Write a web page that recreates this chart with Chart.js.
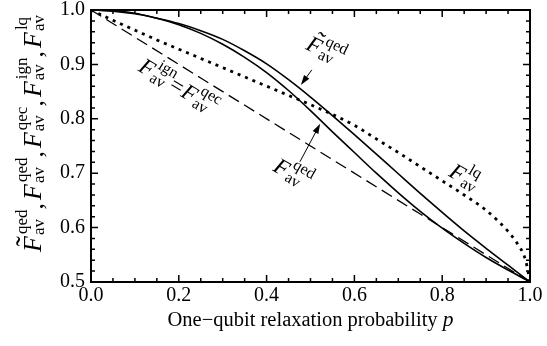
<!DOCTYPE html>
<html>
<head>
<meta charset="utf-8">
<script src="https://cdn.jsdelivr.net/npm/chart.js@4.4.1/dist/chart.umd.min.js"></script>
<style>
  body { margin: 0; background: #fff; }
  #wrap { width: 547px; height: 346px; }
</style>
</head>
<body>
<div id="wrap"><canvas id="myChart" width="547" height="346"></canvas></div>
<script>
/*---- data ----*/
var pGrid = [0, 0.05, 0.1, 0.15, 0.2, 0.25, 0.3, 0.35, 0.4, 0.45, 0.5,
             0.55, 0.6, 0.65, 0.7, 0.75, 0.8, 0.85, 0.9, 0.95, 1.0];
var fQedTilde = [1.000, 0.9985, 0.994, 0.985, 0.975, 0.962, 0.946, 0.925, 0.901, 0.872, 0.840,
                 0.806, 0.771, 0.735, 0.699, 0.663, 0.628, 0.594, 0.562, 0.531, 0.500];
var fQed = [1.000, 0.998, 0.993, 0.985, 0.973, 0.957, 0.937, 0.913, 0.885, 0.852, 0.815,
            0.776, 0.738, 0.700, 0.664, 0.630, 0.599, 0.571, 0.545, 0.522, 0.500];
var pIgn = [0, 0.25, 0.5, 0.75, 1.0];
var fIgn = [1.000, 0.875, 0.750, 0.625, 0.500];
var pLq = [0, 0.05, 0.1, 0.15, 0.2, 0.25, 0.3, 0.35, 0.4, 0.45, 0.5, 0.55,
           0.6, 0.65, 0.7, 0.75, 0.8, 0.85, 0.9, 0.93, 0.95, 0.97, 0.99, 1.0];
var fLq = [1.000, 0.981, 0.963, 0.945, 0.928, 0.911, 0.894, 0.877, 0.860, 0.843, 0.826, 0.808,
           0.788, 0.763, 0.738, 0.712, 0.686, 0.660, 0.632, 0.610, 0.593, 0.572, 0.540, 0.500];
var xTickVals = [0, 0.2, 0.4, 0.6, 0.8, 1.0];
var yTickVals = [0.5, 0.6, 0.7, 0.8, 0.9, 1.0];
var xMinorStep = 0.05;
var yMinorStep = 0.02;
var xTitle = 'One\u2212qubit relaxation probability ';
var xTitleVar = 'p';
var yTitleSups = [['qed', true], ['qed', false], ['qec', false], ['ign', false], ['lq', false]];

var SERIF = '"Liberation Serif", "Times New Roman", serif';

function pts(xs, ys) {
    var out = [];
    for (var i = 0; i < xs.length; i++) out.push({ x: xs[i], y: ys[i] });
    return out;
}

/*---- draws one F_av^sup term, returns its width ----*/
function fTerm(ctx, x, sup, tilde, s, draw) {
    ctx.font = 'italic ' + s.big + 'px ' + SERIF;
    var fw = ctx.measureText('F').width;
    if (draw) {
        ctx.fillText('F', x, 0);
        if (tilde) {
            ctx.font = Math.round(s.big * 1.15) + 'px ' + SERIF;
            ctx.fillText('\u02DC', x + s.big * 0.22, -s.big * 0.2);
        }
    }
    ctx.font = s.small + 'px ' + SERIF;
    var w1 = ctx.measureText('av').width;
    var w2 = ctx.measureText(sup).width;
    if (draw) {
        ctx.fillText('av', x + fw + 1, s.subDy);
        ctx.fillText(sup, x + fw + 2, s.supDy);
    }
    return fw + 2 + Math.max(w1, w2);
}

/*---- a sequence of terms with separators ----*/
function fLabel(ctx, items, s, draw) {
    var x = draw ? -fLabel(ctx, items, s, false) / 2 : 0;
    for (var i = 0; i < items.length; i++) {
        var it = items[i];
        if (it.sep) {
            ctx.font = s.big + 'px ' + SERIF;
            var sw = ctx.measureText(it.sep).width;
            if (draw) ctx.fillText(it.sep, x + (it.dx || 0), it.dy || 0);
            x += sw + (it.extra || 0);
        } else {
            x += fTerm(ctx, x, it.sup, it.tilde, s, draw);
        }
    }
    return x;
}

function arrow(ctx, x0, y0, x1, y1) {
    var a = Math.atan2(y1 - y0, x1 - x0);
    ctx.beginPath();
    ctx.moveTo(x0, y0);
    ctx.lineTo(x1 - 6 * Math.cos(a), y1 - 6 * Math.sin(a));
    ctx.lineWidth = 1;
    ctx.stroke();
    ctx.beginPath();
    ctx.moveTo(x1, y1);
    ctx.lineTo(x1 - 10 * Math.cos(a) + 3.2 * Math.sin(a), y1 - 10 * Math.sin(a) - 3.2 * Math.cos(a));
    ctx.lineTo(x1 - 10 * Math.cos(a) - 3.2 * Math.sin(a), y1 - 10 * Math.sin(a) + 3.2 * Math.cos(a));
    ctx.closePath();
    ctx.fill();
}

var framePlugin = {
    id: 'framePlugin',
    afterDraw: function(chart) {
        var ctx = chart.ctx, a = chart.chartArea;
        var xs = chart.scales.x, ys = chart.scales.y;
        ctx.save();
        ctx.strokeStyle = '#000';
        ctx.fillStyle = '#000';
        // frame
        ctx.lineWidth = 2;
        ctx.strokeRect(a.left, a.top, a.right - a.left, a.bottom - a.top);
        // inward ticks on four sides
        ctx.lineWidth = 1.5;
        ctx.beginPath();
        var nx = Math.round(1 / xMinorStep);
        for (var i = 0; i <= nx; i++) {
            var v = i * xMinorStep;
            var px = xs.getPixelForValue(v);
            var len = (i % 4 === 0) ? 7 : 4;
            ctx.moveTo(px, a.bottom); ctx.lineTo(px, a.bottom - len);
            ctx.moveTo(px, a.top); ctx.lineTo(px, a.top + len);
        }
        var ny = Math.round(0.5 / yMinorStep);
        for (var j = 0; j <= ny; j++) {
            var vy = 0.5 + j * yMinorStep;
            var py = ys.getPixelForValue(vy);
            var leny = (j % 5 === 0) ? 7 : 4;
            ctx.moveTo(a.left, py); ctx.lineTo(a.left + leny, py);
            ctx.moveTo(a.right, py); ctx.lineTo(a.right - leny, py);
        }
        ctx.stroke();

        // x title
        ctx.textBaseline = 'alphabetic';
        ctx.font = '20.5px ' + SERIF;
        var w1 = ctx.measureText(xTitle).width;
        ctx.font = 'italic 21.5px ' + SERIF;
        var w2 = ctx.measureText(xTitleVar).width;
        var cx = (a.left + a.right) / 2;
        var x0 = cx - (w1 + w2) / 2;
        ctx.font = '20.5px ' + SERIF;
        ctx.fillText(xTitle, x0, 326);
        ctx.font = 'italic 21.5px ' + SERIF;
        ctx.fillText(xTitleVar, x0 + w1, 326);

        // y title
        var items = [];
        for (var k = 0; k < yTitleSups.length; k++) {
            if (k > 0) items.push({ sep: ',', extra: 3, dy: 2 });
            items.push({ sup: yTitleSups[k][0], tilde: yTitleSups[k][1] });
        }
        ctx.save();
        ctx.translate(41, 133);
        ctx.rotate(-Math.PI / 2);
        fLabel(ctx, items, { big: 26, small: 17, subDy: 3, supDy: -14 }, true);
        ctx.restore();

        // in-plot labels
        var st = { big: 23, small: 16, subDy: 3, supDy: -12 };
        var notes = [
            { x: 0.198, y: 0.857, ang: 31, items: [{ sup: 'ign' }, { sep: '=', extra: 0, dx: -1 }, { sup: 'qec' }] },
            { x: 0.533, y: 0.923, ang: 26, items: [{ sup: 'qed', tilde: true }] },
            { x: 0.458, y: 0.697, ang: 30, items: [{ sup: 'qed' }] },
            { x: 0.850, y: 0.691, ang: 30, items: [{ sup: 'lq' }] }
        ];
        for (var n = 0; n < notes.length; n++) {
            var nt = notes[n];
            ctx.save();
            ctx.translate(xs.getPixelForValue(nt.x), ys.getPixelForValue(nt.y));
            ctx.rotate(nt.ang * Math.PI / 180);
            ctx.translate(0, 6);
            fLabel(ctx, nt.items, st, true);
            ctx.restore();
        }
        // arrows
        arrow(ctx, xs.getPixelForValue(0.503), ys.getPixelForValue(0.890),
                   xs.getPixelForValue(0.478), ys.getPixelForValue(0.862));
        arrow(ctx, xs.getPixelForValue(0.476), ys.getPixelForValue(0.721),
                   xs.getPixelForValue(0.522), ys.getPixelForValue(0.791));
        ctx.restore();
    }
};

var xTickFont = { family: SERIF, size: 20, lineHeight: 1 };
var yTickFont = { family: SERIF, size: 20, lineHeight: 0.4 };

var ctx = document.getElementById('myChart').getContext('2d');
var myChart = new Chart(ctx, {
    type: 'line',
    data: {
        datasets: [
            { label: 'F~qed', data: pts(pGrid, fQedTilde), borderColor: '#000', borderWidth: 1.6 },
            { label: 'Fqed', data: pts(pGrid, fQed), borderColor: '#000', borderWidth: 1.6 },
            { label: 'Fign=Fqec', data: pts(pIgn, fIgn), borderColor: '#000', borderWidth: 1.3, borderDash: [12, 6] },
            { label: 'Flq', data: pts(pLq, fLq), borderColor: '#000', borderWidth: 2.8, borderDash: [3, 5] }
        ]
    },
    options: {
        responsive: false,
        animation: false,
        devicePixelRatio: 1,
        layout: { padding: { top: 10, right: 17, left: 0, bottom: 0 } },
        elements: {
            point: { radius: 0 },
            line: { cubicInterpolationMode: 'monotone', tension: 0.4, fill: false, borderCapStyle: 'butt' }
        },
        plugins: { legend: { display: false }, tooltip: { enabled: false } },
        scales: {
            x: {
                type: 'linear', min: 0, max: 1,
                afterBuildTicks: function(s) { s.ticks = xTickVals.map(function(v) { return { value: v }; }); },
                afterFit: function(s) { s.height = 64; },
                grid: { display: false, drawTicks: false },
                border: { display: false },
                ticks: { font: xTickFont, color: '#000', padding: 4, maxRotation: 0,
                         callback: function(v) { return v.toFixed(1); } }
            },
            y: {
                type: 'linear', min: 0.5, max: 1.0,
                afterBuildTicks: function(s) { s.ticks = yTickVals.map(function(v) { return { value: v }; }); },
                afterFit: function(s) { s.width = 91; },
                grid: { display: false, drawTicks: false },
                border: { display: false },
                ticks: { font: yTickFont, color: '#000', padding: 6,
                         callback: function(v) { return v.toFixed(1); } }
            }
        }
    },
    plugins: [framePlugin]
});
</script>
</body>
</html>
